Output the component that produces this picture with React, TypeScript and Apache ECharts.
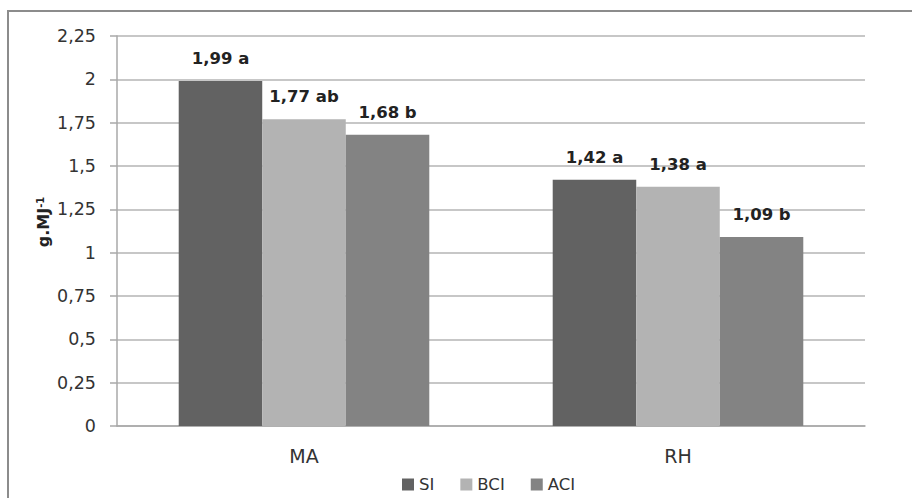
import React, { useEffect, useRef } from "react";
import * as echarts from "echarts";

const categories = ["MA", "RH"];
const seriesNames = ["SI", "BCI", "ACI"];
const siValues = [1.99, 1.42];
const bciValues = [1.77, 1.38];
const aciValues = [1.68, 1.09];
const siLetters = ["a", "a"];
const bciLetters = ["ab", "a"];
const aciLetters = ["b", "b"];
const colors = ["#626262", "#b3b3b3", "#838383"];
const FONT = "DejaVu Sans";

const fmt = (v: number) => String(v).replace(".", ",");

export default function App() {
  const ref = useRef<HTMLDivElement>(null);
  useEffect(() => {
    if (!ref.current) return;
    const chart = echarts.init(ref.current, undefined, { renderer: "svg" });
    const values = [siValues, bciValues, aciValues];
    const letters = [siLetters, bciLetters, aciLetters];
    chart.setOption({
      animation: false,
      textStyle: { fontFamily: FONT },
      grid: { left: 117, right: 47, top: 36, bottom: 72 },
      graphic: [
        {
          type: "rect",
          shape: { x: 8, y: 11, width: 920, height: 500 },
          style: { fill: "none", stroke: "#8c8c8c", lineWidth: 2 },
          z: -1,
        },
        {
          type: "text",
          x: 43,
          y: 222,
          rotation: Math.PI / 2,
          style: {
            text: "{a|g.MJ}{b|-1}",
            align: "center",
            verticalAlign: "middle",
            rich: {
              a: { fontFamily: FONT, fontSize: 16, fontWeight: "bold", fill: "#222" },
              b: { fontFamily: FONT, fontSize: 10, fontWeight: "bold", fill: "#222", verticalAlign: "top", padding: [0, 0, 6, 0] },
            },
          },
        },
      ],
      legend: {
        top: 471,
        left: 397,
        icon: "rect",
        itemWidth: 12,
        itemHeight: 12,
        itemGap: 26,
        textStyle: { fontFamily: FONT, fontSize: 16.5, color: "#333" },
        data: seriesNames,
      },
      xAxis: {
        type: "category",
        data: categories,
        axisLine: { lineStyle: { color: "#a8a8a8", width: 1.5 } },
        axisTick: { show: false },
        axisLabel: { fontFamily: FONT, fontSize: 19, color: "#333", margin: 20 },
      },
      yAxis: {
        type: "value",
        min: 0,
        max: 2.25,
        interval: 0.25,
        axisLine: { show: true, lineStyle: { color: "#a8a8a8", width: 1.5 } },
        axisTick: { show: true, length: 7, lineStyle: { color: "#a8a8a8", width: 1.5 } },
        splitLine: { lineStyle: { color: "#b4b4b4", width: 1.5 } },
        axisLabel: {
          fontFamily: FONT,
          fontSize: 17.5,
          color: "#333",
          margin: 21,
          formatter: (v: number) => fmt(v),
        },
      },
      series: seriesNames.map((name, i) => ({
        name,
        type: "bar",
        data: values[i],
        barGap: "0%",
        barCategoryGap: "33%",
        itemStyle: { color: colors[i] },
        label: {
          show: true,
          position: "top",
          distance: 14,
          fontFamily: FONT,
          fontSize: 16.5,
          fontWeight: "bold",
          color: "#222",
          formatter: (p: any) => `${fmt(p.value)} ${letters[i][p.dataIndex]}`,
        },
      })),
    });
    return () => chart.dispose();
  }, []);
  return (
    <div
      ref={ref}
      style={{ position: "fixed", left: 0, top: 0, width: 912, height: 498, background: "#fff" }}
    />
  );
}
